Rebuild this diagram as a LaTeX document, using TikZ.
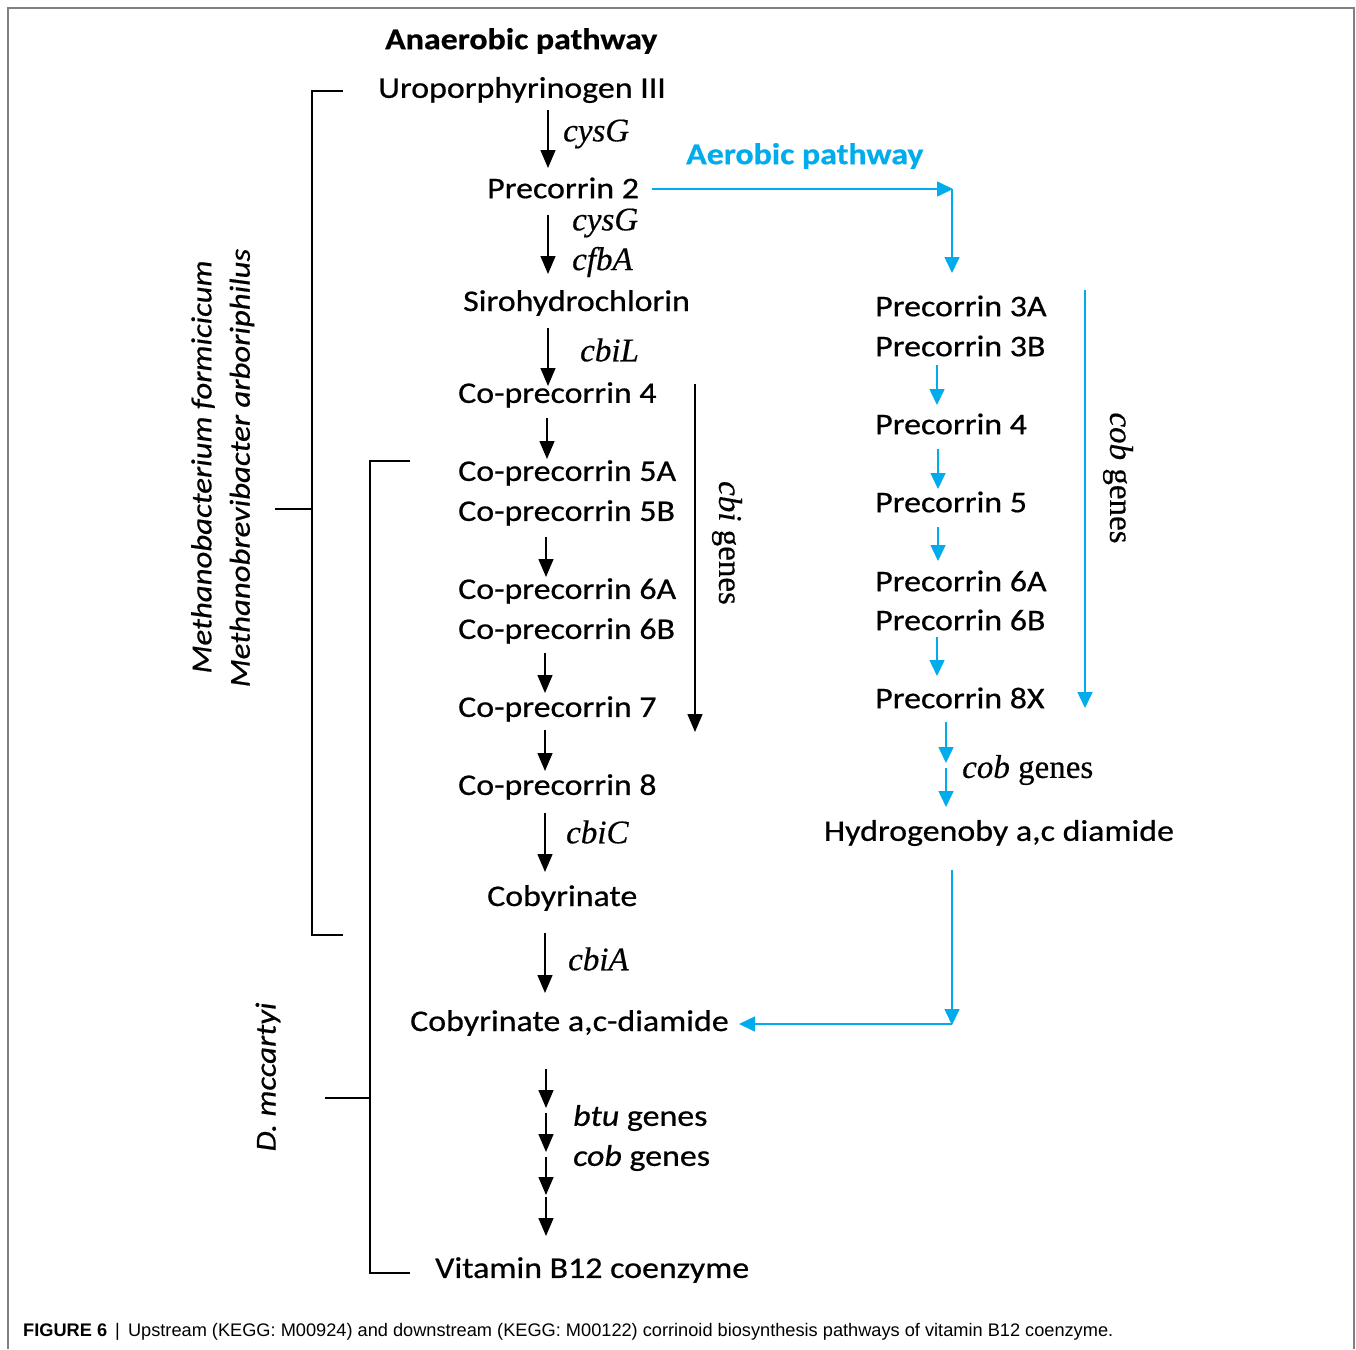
\documentclass[tikz,border=0pt]{standalone}
\usepackage{fontspec}
\setmainfont{Carlito}[FakeStretch=1.13, FakeBold=0.6]
\newfontfamily\serf{Liberation Serif}[FakeBold=0.4]
\newfontfamily\capf{Liberation Sans}
\usetikzlibrary{arrows.meta}
\definecolor{aero}{RGB}{0,172,236}
\definecolor{framegray}{RGB}{128,128,128}
\tikzset{
  lbl/.style={inner sep=0pt, anchor=west, yshift=-3pt, font=\fontsize{30}{36}\selectfont},
  blbl/.style={lbl, font=\fontsize{30}{36}\selectfont\bfseries},
  gene/.style={inner sep=0pt, anchor=west, yshift=-2pt, font=\fontsize{33}{38}\serf\itshape},
  arr/.style={line width=1.4pt, -{Triangle[length=18pt,width=15pt]}},
  barr/.style={aero, line width=1.6pt, -{Triangle[length=16pt,width=15pt]}},
  brk/.style={line width=2pt},
  spec/.style={inner sep=0pt, rotate=90, font=\fontsize{29}{35}\selectfont\itshape},
}
\newcommand\varr[5]{\coordinate (#2s) at (#3,#4); \coordinate (#2e) at (#3,#5); \draw[#1] (#2s) -- (#2e);}
\begin{document}
\begin{tikzpicture}[x=1pt,y=-1pt]
\useasboundingbox (0,0) rectangle (1356,1349);
\fill[white] (0,0) rectangle (1356,1349);
% frame
\coordinate (f1) at (8,1349); \coordinate (f2) at (8,8);
\coordinate (f3) at (1354,8); \coordinate (f4) at (1354,1349);
\draw[framegray, line width=1.5pt] (f1) -- (f2) -- (f3) -- (f4);

% titles
\node[blbl] (ana) at (385,38) {Anaerobic pathway};
\node[blbl, text=aero] (aer) at (686,153) {Aerobic pathway};

% anaerobic column
\node[lbl] (uro) at (378,87) {Uroporphyrinogen III};
\node[lbl] (p2) at (487,185) {Precorrin 2};
\node[lbl] (siro) at (463,300) {Sirohydrochlorin};
\node[lbl] (cp4) at (458,392) {Co-precorrin 4};
\node[lbl] (cp5a) at (458,470) {Co-precorrin 5A};
\node[lbl] (cp5b) at (458,510) {Co-precorrin 5B};
\node[lbl] (cp6a) at (458,588) {Co-precorrin 6A};
\node[lbl] (cp6b) at (458,628) {Co-precorrin 6B};
\node[lbl] (cp7) at (458,706) {Co-precorrin 7};
\node[lbl] (cp8) at (458,784) {Co-precorrin 8};
\node[lbl] (coby) at (487,895) {Cobyrinate};
\node[lbl] (cobyd) at (410,1020) {Cobyrinate a,c-diamide};
\node[lbl] (vit) at (435,1267) {Vitamin B12 coenzyme};

% gene labels
\node[gene] (g1) at (563,132) {cysG};
\node[gene] (g2) at (572,221) {cysG};
\node[gene] (g3) at (572,260) {cfbA};
\node[gene] (g4) at (580,348) {cbiL};
\node[gene] (g5) at (566,830) {cbiC};
\node[gene] (g6) at (568,957) {cbiA};
\node[lbl] (g7) at (573,1115) {\itshape btu\upshape{} genes};
\node[lbl] (g8) at (573,1155) {\itshape cob\upshape{} genes};

% anaerobic arrows
\varr{arr}{a1}{548}{110}{168}
\varr{arr}{a2}{548}{215}{274}
\varr{arr}{a3}{548}{328}{386}
\varr{arr}{a4}{547}{418}{459}
\varr{arr}{a5}{546}{537}{577}
\varr{arr}{a6}{545}{653}{693}
\varr{arr}{a7}{545}{730}{771}
\varr{arr}{a8}{545}{813}{872}
\varr{arr}{a9}{545}{933}{993}
\varr{arr}{a10}{546}{1069}{1108}
\varr{arr}{a11}{546}{1113}{1152}
\varr{arr}{a12}{546}{1157}{1195}
\varr{arr}{a13}{546}{1197}{1236}

% cbi genes
\varr{arr}{cbi}{695}{384}{732}
\node[inner sep=0pt, rotate=-90, font=\fontsize{33}{38}\serf] (cbil) at (727,543) {\itshape cbi\upshape{} genes};

% aerobic column
\node[lbl] (pc3a) at (875,303) {Precorrin 3A};
\node[lbl] (pc3b) at (875,343) {Precorrin 3B};
\node[lbl] (pc4) at (875,421) {Precorrin 4};
\node[lbl] (pc5) at (875,499) {Precorrin 5};
\node[lbl] (pc6a) at (875,578) {Precorrin 6A};
\node[lbl] (pc6b) at (875,617) {Precorrin 6B};
\node[lbl] (pc8x) at (875,695) {Precorrin 8X};
\node[lbl, anchor=center] (hyd) at (999,830) {Hydrogenoby a,c diamide};
\node[gene] (cobh) at (962,768) {cob\upshape{} genes};

\varr{barr}{b1}{937}{365}{405}
\varr{barr}{b2}{938}{449}{489}
\varr{barr}{b3}{938}{527}{561}
\varr{barr}{b4}{937}{637}{676}
\varr{barr}{b5}{946}{722}{763}
\varr{barr}{b6}{946}{768}{807}

% cob genes vertical
\varr{barr}{cob}{1085}{290}{708}
\node[inner sep=0pt, rotate=-90, font=\fontsize{33}{38}\serf] (cobl) at (1118,478) {\itshape cob\upshape{} genes};

% aerobic branch connectors
\coordinate (h1) at (652,189);
\coordinate (h2) at (953,189);
\coordinate (h3) at (952,273);
\draw[barr] (h1) -- (h2);
\coordinate (h2b) at (952,189);
\draw[barr] (h2b) -- (h3);
\coordinate (d1) at (952,870);
\coordinate (d2) at (952,1025);
\coordinate (d2b) at (952,1024);
\coordinate (d3) at (739,1024);
\draw[barr] (d1) -- (d2);
\draw[barr] (d2b) -- (d3);

% brackets
\coordinate (k1) at (343,91); \coordinate (k2) at (312,91);
\coordinate (k3) at (312,935); \coordinate (k4) at (343,935);
\draw[brk] (k1) -- (k2) -- (k3) -- (k4);
\coordinate (k5) at (275,509); \coordinate (k6) at (312,509);
\draw[brk] (k5) -- (k6);
\coordinate (m1) at (410,461); \coordinate (m2) at (370,461);
\coordinate (m3) at (370,1273); \coordinate (m4) at (410,1273);
\draw[brk] (m1) -- (m2) -- (m3) -- (m4);
\coordinate (m5) at (325,1098); \coordinate (m6) at (370,1098);
\draw[brk] (m5) -- (m6);

\node[spec] (sp1) at (203,467) {Methanobacterium formicicum};
\node[spec] (sp2) at (242,468) {Methanobrevibacter arboriphilus};
\node[spec] (sp3) at (268,1077) {D. mccartyi};

% caption
\node[inner sep=0pt, anchor=west, font=\fontsize{18.2}{22}\capf] (cap) at (23,1332) {\textbf{FIGURE 6} \,|\, Upstream (KEGG: M00924) and downstream (KEGG: M00122) corrinoid biosynthesis pathways of vitamin B12 coenzyme.};
\end{tikzpicture}
\end{document}
